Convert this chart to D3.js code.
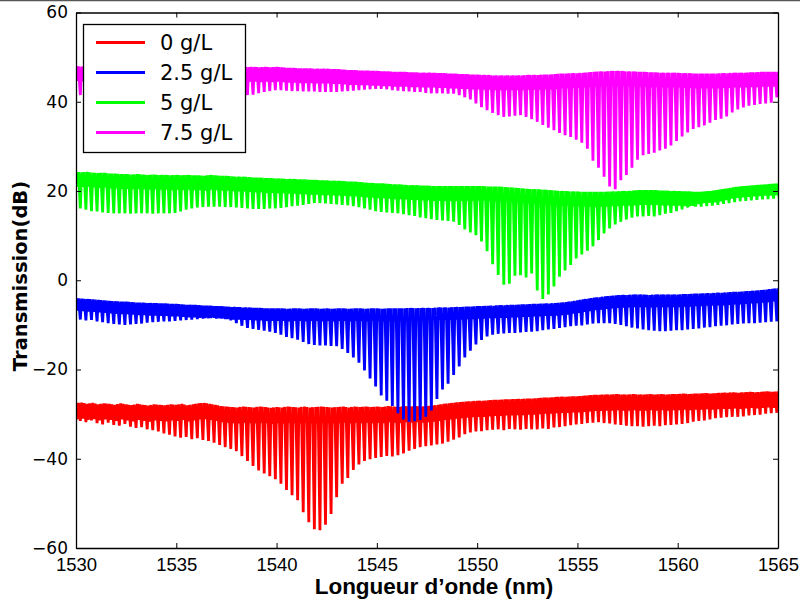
<!DOCTYPE html>
<html><head><meta charset="utf-8">
<script src="https://cdn.jsdelivr.net/npm/d3@7"></script>
<style>body{margin:0;background:#fff}</style>
</head><body>
<svg id="chart" width="800" height="606"></svg>
<script>
// ---- data ----
const categories = ["0 g/L", "2.5 g/L", "5 g/L", "7.5 g/L"];
const seriesColors = ["#ff0000", "#0000ff", "#00ff00", "#ff00ff"];
const xTicks = [1530, 1535, 1540, 1545, 1550, 1555, 1560, 1565];
const yTicks = [-60, -40, -20, 0, 20, 40, 60];
const fringeStart = 1530;      // nm, first fringe maximum
const fringePeriod = 0.2778;   // nm, fringe spacing read from the comb
const bandDepth = [3.6, 2.8, 3.3, 3.3]; // dB, depth of the secondary ripple under the maxima

// per-fringe maxima / minima (dB)
const redTop = [-27.6,-27.4,-27.7,-27.5,-27.8,-27.6,-27.7,-27.9,-27.6,
 -27.8,-28.0,-27.7,-27.9,-28.1,-27.8,-27.9,-28.0,-27.8,
 -27.9,-27.7,-28.0,-27.8,-27.6,-27.5,-27.7,-27.9,-28.2,
 -28.3,-28.4,-28.5,-28.3,-28.4,-28.5,-28.3,-28.4,-28.6,
 -28.4,-28.5,-28.3,-28.4,-28.5,-28.3,-28.5,-28.4,-28.3,
 -28.4,-28.5,-28.4,-28.3,-28.5,-28.3,-28.4,-28.3,-28.4,
 -28.3,-28.4,-28.2,-28.3,-28.4,-28.2,-28.3,-28.2,-28.3,
 -28.2,-28.1,-27.9,-27.7,-27.6,-27.4,-27.3,-27.2,-27.1,
 -27.0,-27.0,-26.9,-26.8,-26.8,-26.7,-26.7,-26.6,-26.6,
 -26.5,-26.5,-26.4,-26.3,-26.3,-26.2,-26.1,-26.1,-26.0,
 -26.0,-25.9,-25.8,-25.7,-25.7,-25.6,-25.6,-25.5,-25.6,
 -25.6,-25.5,-25.6,-25.6,-25.5,-25.6,-25.5,-25.6,-25.5,
 -25.5,-25.4,-25.5,-25.4,-25.4,-25.3,-25.4,-25.3,-25.2,
 -25.2,-25.1,-25.2,-25.1,-25.0,-25.1,-25.0,-24.9,-25.0,-24.9];
const redDip = [-31.5,-31.8,-31.4,-32.0,-32.3,-31.9,-32.4,-32.6,-32.2,
 -32.8,-33.1,-32.9,-33.4,-33.6,-33.9,-34.3,-34.6,-35.0,
 -35.3,-35.1,-35.6,-35.4,-35.8,-36.0,-36.4,-36.9,-37.4,
 -37.8,-38.3,-39.4,-40.5,-41.6,-42.6,-43.3,-43.9,-44.6,
 -45.6,-47.0,-48.2,-49.3,-52.0,-54.2,-55.8,-56.0,-54.8,
 -52.4,-48.6,-45.6,-44.3,-42.5,-41.3,-40.5,-40.1,-39.8,
 -39.6,-39.4,-39.5,-39.2,-38.8,-38.2,-37.8,-37.4,-37.2,
 -37.0,-36.8,-36.6,-36.2,-35.7,-35.2,-34.5,-34.1,-33.9,
 -33.8,-33.6,-33.5,-33.4,-33.6,-33.3,-33.4,-33.5,-33.3,
 -33.4,-33.4,-33.2,-33.3,-33.0,-32.9,-32.7,-32.5,-32.3,
 -32.2,-32.0,-31.9,-31.8,-32.0,-32.1,-32.3,-32.4,-32.6,
 -32.7,-32.7,-32.8,-32.7,-32.6,-32.7,-32.5,-32.4,-32.3,
 -32.2,-32.0,-31.7,-31.5,-31.4,-31.2,-30.9,-30.8,-30.7,
 -30.6,-30.6,-30.5,-30.3,-30.2,-30.1,-29.9,-29.8,-29.7,-29.6];

const blueTop = [-4.0,-4.1,-4.2,-4.3,-4.4,-4.5,-4.6,-4.7,-4.8,
 -4.8,-4.9,-5.0,-5.0,-5.1,-5.1,-5.2,-5.2,-5.3,
 -5.3,-5.4,-5.5,-5.5,-5.6,-5.7,-5.7,-5.8,-5.8,
 -5.9,-6.0,-6.0,-6.1,-6.1,-6.2,-6.2,-6.3,-6.3,
 -6.3,-6.3,-6.4,-6.3,-6.3,-6.4,-6.3,-6.3,-6.4,
 -6.3,-6.4,-6.3,-6.3,-6.4,-6.3,-6.3,-6.4,-6.3,
 -6.3,-6.4,-6.3,-6.3,-6.3,-6.3,-6.2,-6.3,-6.2,
 -6.2,-6.2,-6.1,-6.1,-6.1,-6.0,-6.0,-5.9,-5.9,
 -5.8,-5.8,-5.7,-5.7,-5.6,-5.6,-5.5,-5.5,-5.4,
 -5.4,-5.3,-5.3,-5.2,-5.2,-5.1,-5.0,-4.9,-4.7,
 -4.5,-4.3,-4.1,-3.9,-3.8,-3.6,-3.5,-3.4,-3.3,
 -3.3,-3.2,-3.2,-3.2,-3.3,-3.2,-3.2,-3.2,-3.2,
 -3.2,-3.1,-3.1,-3.0,-3.0,-2.9,-2.9,-2.8,-2.8,
 -2.7,-2.6,-2.6,-2.5,-2.4,-2.3,-2.2,-2.1,-1.9,-1.8];
const blueDip = [-8.8,-9.0,-8.9,-9.2,-9.4,-9.6,-9.8,-9.9,-10.0,
 -9.9,-9.8,-9.7,-9.5,-9.4,-9.3,-9.2,-9.2,-9.1,
 -9.0,-8.9,-8.8,-8.7,-8.6,-8.5,-8.4,-8.5,-8.7,
 -9.0,-9.6,-10.2,-10.7,-10.9,-11.1,-11.3,-11.5,-11.8,
 -12.2,-12.7,-13.0,-13.3,-13.8,-14.3,-14.5,-14.6,-14.6,
 -14.7,-14.8,-15.4,-16.3,-17.3,-18.5,-20.2,-22.0,-23.8,
 -25.8,-27.0,-28.2,-29.8,-31.2,-31.7,-31.6,-31.3,-30.6,
 -29.2,-26.6,-24.5,-23.2,-21.2,-19.3,-17.3,-15.8,-14.4,
 -13.4,-12.6,-12.2,-12.0,-11.9,-11.8,-11.8,-11.7,-11.6,
 -11.5,-11.4,-11.2,-11.0,-10.9,-10.7,-10.5,-10.3,-10.2,
 -10.1,-9.9,-9.7,-9.6,-9.6,-9.6,-9.8,-10.0,-10.3,
 -10.6,-10.8,-11.0,-11.2,-11.3,-11.4,-11.4,-11.3,-11.2,
 -11.2,-11.0,-10.9,-10.8,-10.6,-10.5,-10.3,-10.2,-10.1,
 -9.9,-9.8,-9.7,-9.6,-9.6,-9.5,-9.4,-9.3,-9.2,-9.1];

const greenTop = [24.3,24.2,24.3,24.1,24.0,24.1,23.9,23.9,23.8,
 23.8,23.7,23.8,23.7,23.6,23.7,23.6,23.6,23.5,
 23.6,23.5,23.6,23.5,23.5,23.4,23.6,23.5,23.4,
 23.4,23.3,23.2,23.2,23.1,23.0,23.0,22.9,22.9,
 22.8,22.8,22.7,22.7,22.6,22.6,22.5,22.5,22.4,
 22.4,22.3,22.3,22.2,22.1,22.1,22.0,21.9,21.8,
 21.7,21.7,21.6,21.5,21.5,21.4,21.3,21.3,21.2,
 21.2,21.1,21.1,21.1,21.1,21.1,21.1,21.1,21.1,
 21.1,21.1,21.0,21.0,21.0,20.9,20.8,20.7,20.6,
 20.5,20.4,20.4,20.3,20.2,20.1,20.0,20.0,19.9,
 19.9,19.8,19.8,19.8,19.8,19.8,19.9,19.9,20.0,
 20.0,20.1,20.2,20.2,20.2,20.2,20.1,20.1,20.0,
 20.0,19.9,19.9,19.8,19.8,19.9,20.0,20.2,20.4,
 20.6,20.8,21.0,21.1,21.2,21.3,21.4,21.5,21.6,21.7];
const greenDip = [16.1,15.8,15.5,15.4,15.2,15.1,15.0,15.0,15.0,
 14.9,15.0,15.0,15.0,14.9,15.0,15.0,15.0,15.1,
 15.4,15.8,16.1,16.3,16.4,16.5,16.5,16.5,16.4,
 16.4,16.3,16.2,16.1,16.0,16.0,16.0,16.1,16.1,
 16.2,16.4,16.6,16.7,16.9,17.1,17.3,17.3,17.2,
 17.1,17.0,16.9,16.8,16.6,16.4,16.1,15.8,15.5,
 15.3,15.2,15.1,15.0,14.8,14.6,14.4,14.1,13.9,
 13.7,13.5,13.4,13.3,13.1,12.4,11.4,10.7,10.1,
 8.7,6.5,3.6,1.2,-1.0,-0.8,1.0,1.1,0.6,
 1.5,-2.3,-4.2,-3.2,-1.4,0.8,2.2,3.4,4.9,
 5.8,6.6,7.6,9.0,10.5,11.6,12.5,13.1,13.6,
 14.0,14.3,14.3,14.4,14.3,14.6,14.9,15.1,15.5,
 15.9,16.3,16.7,17.1,17.3,17.4,17.5,17.7,18.0,
 18.3,18.5,18.6,18.7,18.8,18.9,19.0,19.0,19.1,19.1];

const magentaTop = [48.0,47.9,48.0,47.9,47.8,47.9,47.8,47.8,47.9,
 47.8,47.8,47.9,47.8,47.8,47.7,47.8,47.8,47.7,
 47.8,47.7,47.8,47.7,47.8,47.7,47.8,47.7,47.8,
 47.7,47.8,47.8,47.9,47.8,47.8,47.7,47.8,47.7,
 47.8,47.7,47.6,47.6,47.5,47.5,47.5,47.4,47.4,
 47.4,47.3,47.3,47.2,47.1,47.1,47.0,47.0,46.9,
 46.9,46.8,46.8,46.7,46.7,46.7,46.6,46.6,46.5,
 46.5,46.5,46.4,46.4,46.3,46.3,46.2,46.2,46.1,
 46.1,46.0,46.0,45.9,45.9,45.9,45.9,45.9,45.9,
 46.0,46.0,46.0,46.1,46.1,46.2,46.3,46.3,46.4,
 46.4,46.5,46.6,46.7,46.8,46.8,46.9,46.9,46.9,
 46.8,46.8,46.7,46.7,46.6,46.6,46.5,46.5,46.5,
 46.5,46.4,46.4,46.3,46.3,46.3,46.3,46.3,46.4,
 46.4,46.5,46.5,46.5,46.6,46.6,46.7,46.7,46.7,46.7];
const magentaDip = [41.5,41.8,42.0,42.1,42.3,42.0,42.2,42.1,42.3,
 42.2,42.0,42.1,42.3,42.2,42.1,42.0,42.2,42.3,
 42.1,42.2,42.0,42.1,42.2,42.0,41.9,42.0,41.8,
 41.7,41.8,41.6,41.5,41.6,41.9,42.2,42.4,42.6,
 42.6,42.5,42.4,42.4,42.3,42.3,42.3,42.2,42.2,
 42.2,42.2,42.3,42.4,42.5,42.6,42.7,42.8,42.9,
 42.9,42.8,42.6,42.5,42.4,42.3,42.2,42.2,42.0,
 41.9,41.9,41.9,41.8,41.8,41.5,41.0,40.5,39.6,
 38.8,38.1,37.5,37.0,36.6,36.7,36.9,37.0,36.6,
 36.1,35.5,34.8,34.2,33.6,33.0,32.5,32.1,31.5,
 30.8,29.5,26.8,25.2,23.2,21.0,20.4,22.4,23.6,
 25.2,27.0,28.0,28.3,28.6,29.1,29.5,30.2,31.2,
 32.2,33.1,33.9,34.3,34.7,35.3,35.9,36.2,36.7,
 37.6,38.3,38.7,39.1,39.3,39.5,39.6,39.8,41.0,41.8];

const seriesTops = [redTop, blueTop, greenTop, magentaTop];
const seriesDips = [redDip, blueDip, greenDip, magentaDip];

// ---- layout ----
const W = 800, H = 606;
const m = {left: 76, right: 778, top: 12.5, bottom: 548};
const svg = d3.select("#chart");
svg.append("rect").attr("width", W).attr("height", H).attr("fill", "#fff");
svg.append("line").attr("x1", 0).attr("x2", W).attr("y1", 0.5).attr("y2", 0.5)
  .attr("stroke", "#555").attr("stroke-width", 1.5);

const x = d3.scaleLinear().domain([1530, 1565]).range([m.left, m.right]);
const y = d3.scaleLinear().domain([-60, 60]).range([m.bottom, m.top]);

svg.append("defs").append("clipPath").attr("id", "plotclip")
  .append("rect").attr("x", m.left).attr("y", m.top)
  .attr("width", m.right - m.left).attr("height", m.bottom - m.top);

const line = d3.line().x(d => x(d[0])).y(d => y(d[1]));
const plot = svg.append("g").attr("clip-path", "url(#plotclip)");

seriesTops.forEach((tops, s) => {
  const dips = seriesDips[s];
  const band = bandDepth[s];
  const pts = [];
  tops.forEach((t, i) => {
    const l0 = fringeStart + i * fringePeriod;
    const nextTop = i + 1 < tops.length ? tops[i + 1] : t;
    pts.push([l0, t]);
    pts.push([l0 + 0.2 * fringePeriod, t - band]);
    pts.push([l0 + 0.45 * fringePeriod, (t + nextTop) / 2]);
    pts.push([l0 + 0.78 * fringePeriod, dips[i]]);
  });
  plot.append("path").datum(pts).attr("d", line)
    .attr("fill", "none").attr("stroke", seriesColors[s])
    .attr("stroke-width", 2.8).attr("stroke-linejoin", "miter").attr("stroke-miterlimit", 2);
});

// axes (ticks inward on all sides)
const tickFont = "'DejaVu Sans', sans-serif";
const xAxisB = d3.axisBottom(x).tickValues(xTicks).tickFormat(d3.format("d"))
  .tickSizeInner(-5).tickSizeOuter(0).tickPadding(10);
const xAxisT = d3.axisTop(x).tickValues(xTicks).tickSizeInner(-5).tickSizeOuter(0).tickFormat("");
const yAxisL = d3.axisLeft(y).tickValues(yTicks).tickSizeInner(-5).tickSizeOuter(0).tickPadding(8);
const yAxisR = d3.axisRight(y).tickValues(yTicks).tickSizeInner(-5).tickSizeOuter(0).tickFormat("");

const gxb = svg.append("g").attr("transform", `translate(0,${m.bottom})`).call(xAxisB);
const gxt = svg.append("g").attr("transform", `translate(0,${m.top})`).call(xAxisT);
const gyl = svg.append("g").attr("transform", `translate(${m.left},0)`).call(yAxisL);
const gyr = svg.append("g").attr("transform", `translate(${m.right},0)`).call(yAxisR);
[gxb, gxt, gyl, gyr].forEach(g => {
  g.select(".domain").attr("stroke", "#000").attr("stroke-width", 1.3);
  g.selectAll(".tick line").attr("stroke", "#000").attr("stroke-width", 1);
});
gxb.selectAll(".tick text").attr("font-family", "'Liberation Sans', Arial, sans-serif")
  .attr("font-size", 18.5).attr("fill", "#000");
gyl.selectAll(".tick text").attr("font-family", tickFont)
  .attr("font-size", 17).attr("fill", "#000");

// axis titles
svg.append("text").attr("x", 434).attr("y", 594).attr("text-anchor", "middle")
  .attr("font-family", "'Liberation Sans', Arial, sans-serif").attr("font-weight", "bold")
  .attr("font-size", 22.5).attr("fill", "#000").text("Longueur d\u2019onde (nm)");
svg.append("text").attr("transform", "translate(27,276) rotate(-90)").attr("text-anchor", "middle")
  .attr("font-family", tickFont).attr("font-weight", "bold")
  .attr("font-size", 19.5).attr("fill", "#000").text("Transmission(dB)");

// legend
const lg = svg.append("g");
lg.append("rect").attr("x", 83.5).attr("y", 24.5).attr("width", 162).attr("height", 128)
  .attr("fill", "#fff").attr("stroke", "#000").attr("stroke-width", 1.3);
categories.forEach((c, i) => {
  const yy = 42.5 + i * 30;
  lg.append("line").attr("x1", 96).attr("x2", 145).attr("y1", yy).attr("y2", yy)
    .attr("stroke", seriesColors[i]).attr("stroke-width", 3);
  lg.append("text").attr("x", 160).attr("y", yy).attr("dy", "0.36em")
    .attr("font-family", tickFont).attr("font-size", 21).attr("fill", "#000").text(c);
});
</script>
</body></html>
